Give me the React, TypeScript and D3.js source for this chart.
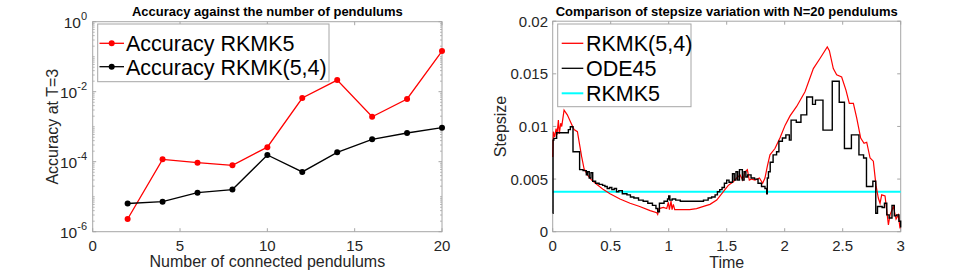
import React from 'react';
import * as d3 from 'd3';

// ---------- Left chart data ----------
const pendulums = [2, 4, 6, 8, 10, 12, 14, 16, 18, 20];
const accRKMK5 = [2.3e-6, 1.17e-4, 9.4e-5, 7.9e-5, 2.6e-4, 6.6e-3, 2.15e-2, 1.93e-3, 6.2e-3, 0.145];
const accRKMK54 = [6.4e-6, 7.2e-6, 1.3e-5, 1.6e-5, 1.55e-4, 5.1e-5, 1.85e-4, 4.35e-4, 6.6e-4, 9.4e-4];
const leftXTicks = [0, 5, 10, 15, 20];
const leftYTicks = [1e-6, 1e-4, 1e-2, 1];
const leftYExp = ['-6', '-4', '-2', '0'];
const leftLegend = ['Accuracy RKMK5', 'Accuracy RKMK(5,4)'];

// ---------- Right chart data ----------
const redT = [0, 0.006, 0.017, 0.029, 0.037, 0.049, 0.057, 0.069, 0.078, 0.098, 0.126, 0.155, 0.184, 0.213, 0.23, 0.25, 0.27, 0.299, 0.336, 0.379, 0.437, 0.494, 0.58, 0.667, 0.75, 0.84, 0.897, 0.905, 0.917, 0.954, 0.983, 0.997, 1.006, 1.02, 1.029, 1.04, 1.052, 1.1, 1.18, 1.24, 1.3, 1.356, 1.414, 1.471, 1.514, 1.557, 1.586, 1.615, 1.638, 1.658, 1.678, 1.695, 1.715, 1.744, 1.782, 1.81, 1.83, 1.85, 1.873, 1.916, 1.959, 2.003, 2.046, 2.103, 2.175, 2.247, 2.304, 2.367, 2.385, 2.419, 2.448, 2.491, 2.528, 2.557, 2.592, 2.621, 2.655, 2.684, 2.707, 2.736, 2.764, 2.787, 2.807, 2.822, 2.836, 2.865, 2.894, 2.908, 2.937, 2.96, 2.98, 2.994];
const redV = [0.0071, 0.0095, 0.009, 0.0098, 0.0092, 0.0106, 0.0093, 0.0103, 0.01, 0.01155, 0.0111, 0.0104, 0.0097, 0.0095, 0.0084, 0.0071, 0.006, 0.0054, 0.0049, 0.0045, 0.004, 0.0036, 0.0031, 0.0027, 0.0024, 0.002, 0.0018, 0.00165, 0.0022, 0.0023, 0.0022, 0.0028, 0.0021, 0.0029, 0.0021, 0.0026, 0.0021, 0.0021, 0.0021, 0.0022, 0.0024, 0.0026, 0.003, 0.0038, 0.0044, 0.00475, 0.0051, 0.0054, 0.0049, 0.0057, 0.0059, 0.0049, 0.005, 0.0049, 0.0051, 0.0046, 0.0051, 0.0062, 0.0073, 0.0079, 0.0089, 0.0101, 0.011, 0.0119, 0.0133, 0.0155, 0.01646, 0.01756, 0.0172, 0.0155, 0.0149, 0.0147, 0.01345, 0.0122, 0.0122, 0.0108, 0.0089, 0.0084, 0.0085, 0.007, 0.0067, 0.0044, 0.0032, 0.0027, 0.0035, 0.0034, 0.00064, 0.0016, 0.0024, 0.0012, 0.0016, 0.0003];

const blackT = [0, 0.003, 0.01, 0.034, 0.135, 0.152, 0.175, 0.232, 0.262, 0.29, 0.3, 0.315, 0.33, 0.345, 0.37, 0.4, 0.43, 0.45, 0.47, 0.49, 0.51, 0.53, 0.55, 0.57, 0.6, 0.64, 0.67, 0.7, 0.74, 0.78, 0.82, 0.86, 0.89, 0.905, 0.92, 0.96, 0.99, 1.0, 1.01, 1.03, 1.06, 1.1, 1.15, 1.2, 1.25, 1.3, 1.34, 1.37, 1.4, 1.42, 1.44, 1.46, 1.48, 1.5, 1.52, 1.55, 1.565, 1.58, 1.595, 1.61, 1.635, 1.65, 1.665, 1.68, 1.71, 1.74, 1.77, 1.8, 1.83, 1.845, 1.85, 1.86, 1.875, 1.9, 1.93, 1.95, 1.98, 2.01, 2.04, 2.055, 2.1, 2.14, 2.19, 2.24, 2.265, 2.33, 2.41, 2.47, 2.515, 2.575, 2.64, 2.68, 2.705, 2.76, 2.785, 2.8, 2.84, 2.86, 2.88, 2.9, 2.925, 2.945, 2.965, 2.985, 3.0];
const blackV = [0.00175, 0.0087, 0.00887, 0.0094, 0.0097, 0.00997, 0.0076, 0.0059, 0.0058, 0.0054, 0.0057, 0.0051, 0.0056, 0.0048, 0.0046, 0.0045, 0.0044, 0.0043, 0.0041, 0.0042, 0.004, 0.0041, 0.0038, 0.0039, 0.0036, 0.0035, 0.0033, 0.0032, 0.003, 0.0029, 0.0027, 0.0025, 0.0022, 0.0019, 0.0027, 0.0029, 0.0031, 0.0034, 0.003, 0.0031, 0.003, 0.0029, 0.0029, 0.0029, 0.0029, 0.003, 0.0032, 0.0033, 0.0035, 0.0038, 0.004, 0.0042, 0.0046, 0.0049, 0.0047, 0.0055, 0.0049, 0.0057, 0.0049, 0.0059, 0.0049, 0.0057, 0.0052, 0.0054, 0.0051, 0.005, 0.0046, 0.0043, 0.0041, 0.0036, 0.0051, 0.0057, 0.0066, 0.0073, 0.0076, 0.0086, 0.0089, 0.0092, 0.0087, 0.0106, 0.0104, 0.0111, 0.0128, 0.0121, 0.0125, 0.00965, 0.0143, 0.0123, 0.0079, 0.0092, 0.0073, 0.007, 0.0043, 0.0048, 0.00175, 0.0024, 0.0023, 0.0027, 0.0016, 0.0013, 0.0025, 0.0015, 0.0016, 0.001, 0.0004];

const cyanT = [0, 3];
const cyanV = [0.0038, 0.0038];

const rightXTicks = [0, 0.5, 1, 1.5, 2, 2.5, 3];
const rightXLabels = ['0', '0.5', '1', '1.5', '2', '2.5', '3'];
const rightYTicks = [0, 0.005, 0.01, 0.015, 0.02];
const rightYLabels = ['0', '0.005', '0.01', '0.015', '0.02'];
const rightLegend = ['RKMK(5,4)', 'ODE45', 'RKMK5'];

const FONT = '"Liberation Sans", Arial, Helvetica, sans-serif';
const AX = '#a6a6a6';
const TXT = '#262626';

export default function App() {
  // Left chart scales
  const lx = d3.scaleLinear().domain([0, 20]).range([92.7, 442]);
  const ly = d3.scaleLog().domain([1e-6, 1]).range([231.7, 21.7]);
  // Right chart scales
  const rx = d3.scaleLinear().domain([0, 3]).range([552.7, 900.7]);
  const ry = d3.scaleLinear().domain([0, 0.02]).range([231.7, 21.2]);

  const leftLine = d3.line<number>().x((d, i) => lx(pendulums[i])).y((d) => ly(d));
  const redPts = redT.map((t, i) => [t, redV[i]] as [number, number]);
  const blackPts = blackT.map((t, i) => [t, blackV[i]] as [number, number]);
  const cyanPts = cyanT.map((t, i) => [t, cyanV[i]] as [number, number]);
  const rLine = d3.line<[number, number]>().x((d) => rx(d[0])).y((d) => ry(d[1]));
  const rStep = d3.line<[number, number]>().x((d) => rx(d[0])).y((d) => ry(d[1])).curve(d3.curveStepAfter);

  const minorLeft: number[] = [];
  for (let e = -6; e < 0; e++) {
    for (let k = 1; k <= 9; k++) {
      const v = k * Math.pow(10, e);
      if (k === 1 && e % 2 === 0) continue;
      minorLeft.push(v);
    }
  }

  const tl = 3.5;
  const [lx0, lx1] = lx.range();
  const [ly0, ly1] = ly.range();
  const [rx0, rx1] = rx.range();
  const [ry0, ry1] = ry.range();

  return (
    <svg width={957} height={273} style={{ position: 'absolute', left: 0, top: 0, background: '#fff' }} fontFamily={FONT}>
      <rect x={0} y={0} width={957} height={273} fill="#fff" />

      {/* ===== LEFT CHART ===== */}
      <text x={(lx0 + lx1) / 2} y={16} textAnchor="middle" fontSize={13} fontWeight="bold" fill="#000">
        Accuracy against the number of pendulums
      </text>
      <rect x={lx0} y={ly1} width={lx1 - lx0} height={ly0 - ly1} fill="none" stroke={AX} strokeWidth={1} />
      {leftXTicks.map((t) => (
        <g key={'lxt' + t}>
          <line x1={lx(t)} x2={lx(t)} y1={ly0} y2={ly0 - tl} stroke={AX} />
          <line x1={lx(t)} x2={lx(t)} y1={ly1} y2={ly1 + tl} stroke={AX} />
          <text x={lx(t)} y={250.5} textAnchor="middle" fontSize={15} fill={TXT}>{t}</text>
        </g>
      ))}
      {leftYTicks.map((v, i) => (
        <g key={'lyt' + i}>
          <line x1={lx0} x2={lx0 + tl} y1={ly(v)} y2={ly(v)} stroke={AX} />
          <line x1={lx1} x2={lx1 - tl} y1={ly(v)} y2={ly(v)} stroke={AX} />
          <text x={87} y={ly(v) + 6} textAnchor="end" fontSize={15.5} fill={TXT}>
            10<tspan dy={-8} fontSize={11}>{leftYExp[i]}</tspan>
          </text>
        </g>
      ))}
      {minorLeft.map((v, i) => (
        <g key={'lmin' + i}>
          <line x1={lx0} x2={lx0 + 2} y1={ly(v)} y2={ly(v)} stroke={AX} strokeWidth={0.8} />
          <line x1={lx1} x2={lx1 - 2} y1={ly(v)} y2={ly(v)} stroke={AX} strokeWidth={0.8} />
        </g>
      ))}
      <text x={(lx0 + lx1) / 2} y={267} textAnchor="middle" fontSize={16} fill={TXT}>Number of connected pendulums</text>
      <text transform={`translate(58,${(ly0 + ly1) / 2}) rotate(-90)`} textAnchor="middle" fontSize={16} fill={TXT}>Accuracy at T=3</text>

      <path d={leftLine(accRKMK5) || ''} fill="none" stroke="#ff0000" strokeWidth={1.3} />
      {accRKMK5.map((v, i) => <circle key={'r' + i} cx={lx(pendulums[i])} cy={ly(v)} r={3} fill="#ff0000" />)}
      <path d={leftLine(accRKMK54) || ''} fill="none" stroke="#000" strokeWidth={1.3} />
      {accRKMK54.map((v, i) => <circle key={'b' + i} cx={lx(pendulums[i])} cy={ly(v)} r={3} fill="#000" />)}

      {/* left legend */}
      <rect x={97.7} y={24} width={231.3} height={57.7} fill="#fff" stroke={AX} strokeWidth={1} />
      {leftLegend.map((name, i) => {
        const yy = 43.3 + i * 23.4;
        const col = i === 0 ? '#ff0000' : '#000';
        return (
          <g key={'ll' + i}>
            <line x1={99.5} x2={124} y1={yy} y2={yy} stroke={col} strokeWidth={1.3} />
            <circle cx={111.7} cy={yy} r={3} fill={col} />
            <text x={126} y={yy + 8} fontSize={21.5} fill="#000">{name}</text>
          </g>
        );
      })}

      {/* ===== RIGHT CHART ===== */}
      <text x={(rx0 + rx1) / 2} y={16} textAnchor="middle" fontSize={13} fontWeight="bold" fill="#000">
        Comparison of stepsize variation with N=20 pendulums
      </text>
      <rect x={rx0} y={ry1} width={rx1 - rx0} height={ry0 - ry1} fill="none" stroke={AX} strokeWidth={1} />
      {rightXTicks.map((t, i) => (
        <g key={'rxt' + i}>
          <line x1={rx(t)} x2={rx(t)} y1={ry0} y2={ry0 - tl} stroke={AX} />
          <line x1={rx(t)} x2={rx(t)} y1={ry1} y2={ry1 + tl} stroke={AX} />
          <text x={rx(t)} y={250.5} textAnchor="middle" fontSize={15} fill={TXT}>{rightXLabels[i]}</text>
        </g>
      ))}
      {rightYTicks.map((v, i) => (
        <g key={'ryt' + i}>
          <line x1={rx0} x2={rx0 + tl} y1={ry(v)} y2={ry(v)} stroke={AX} />
          <line x1={rx1} x2={rx1 - tl} y1={ry(v)} y2={ry(v)} stroke={AX} />
          <text x={548} y={ry(v) + 5.5} textAnchor="end" fontSize={15} fill={TXT}>{rightYLabels[i]}</text>
        </g>
      ))}
      <text x={(rx0 + rx1) / 2} y={268} textAnchor="middle" fontSize={16} fill={TXT}>Time</text>
      <text transform={`translate(506,${(ry0 + ry1) / 2}) rotate(-90)`} textAnchor="middle" fontSize={16} fill={TXT}>Stepsize</text>

      <path d={rLine(cyanPts) || ''} fill="none" stroke="#00ffff" strokeWidth={2} />
      <path d={rLine(redPts) || ''} fill="none" stroke="#ff0000" strokeWidth={1.2} />
      <path d={rStep(blackPts) || ''} fill="none" stroke="#000" strokeWidth={1.4} />

      {/* right legend */}
      <rect x={557.7} y={24} width={133.3} height={82.7} fill="#fff" stroke={AX} strokeWidth={1} />
      {rightLegend.map((name, i) => {
        const yy = 43.3 + i * 25;
        const col = i === 0 ? '#ff0000' : i === 1 ? '#000' : '#00ffff';
        return (
          <g key={'rl' + i}>
            <line x1={561.7} x2={583.3} y1={yy} y2={yy} stroke={col} strokeWidth={i === 2 ? 2 : 1.3} />
            <text x={586} y={yy + 8} fontSize={21.5} fill="#000">{name}</text>
          </g>
        );
      })}
    </svg>
  );
}
